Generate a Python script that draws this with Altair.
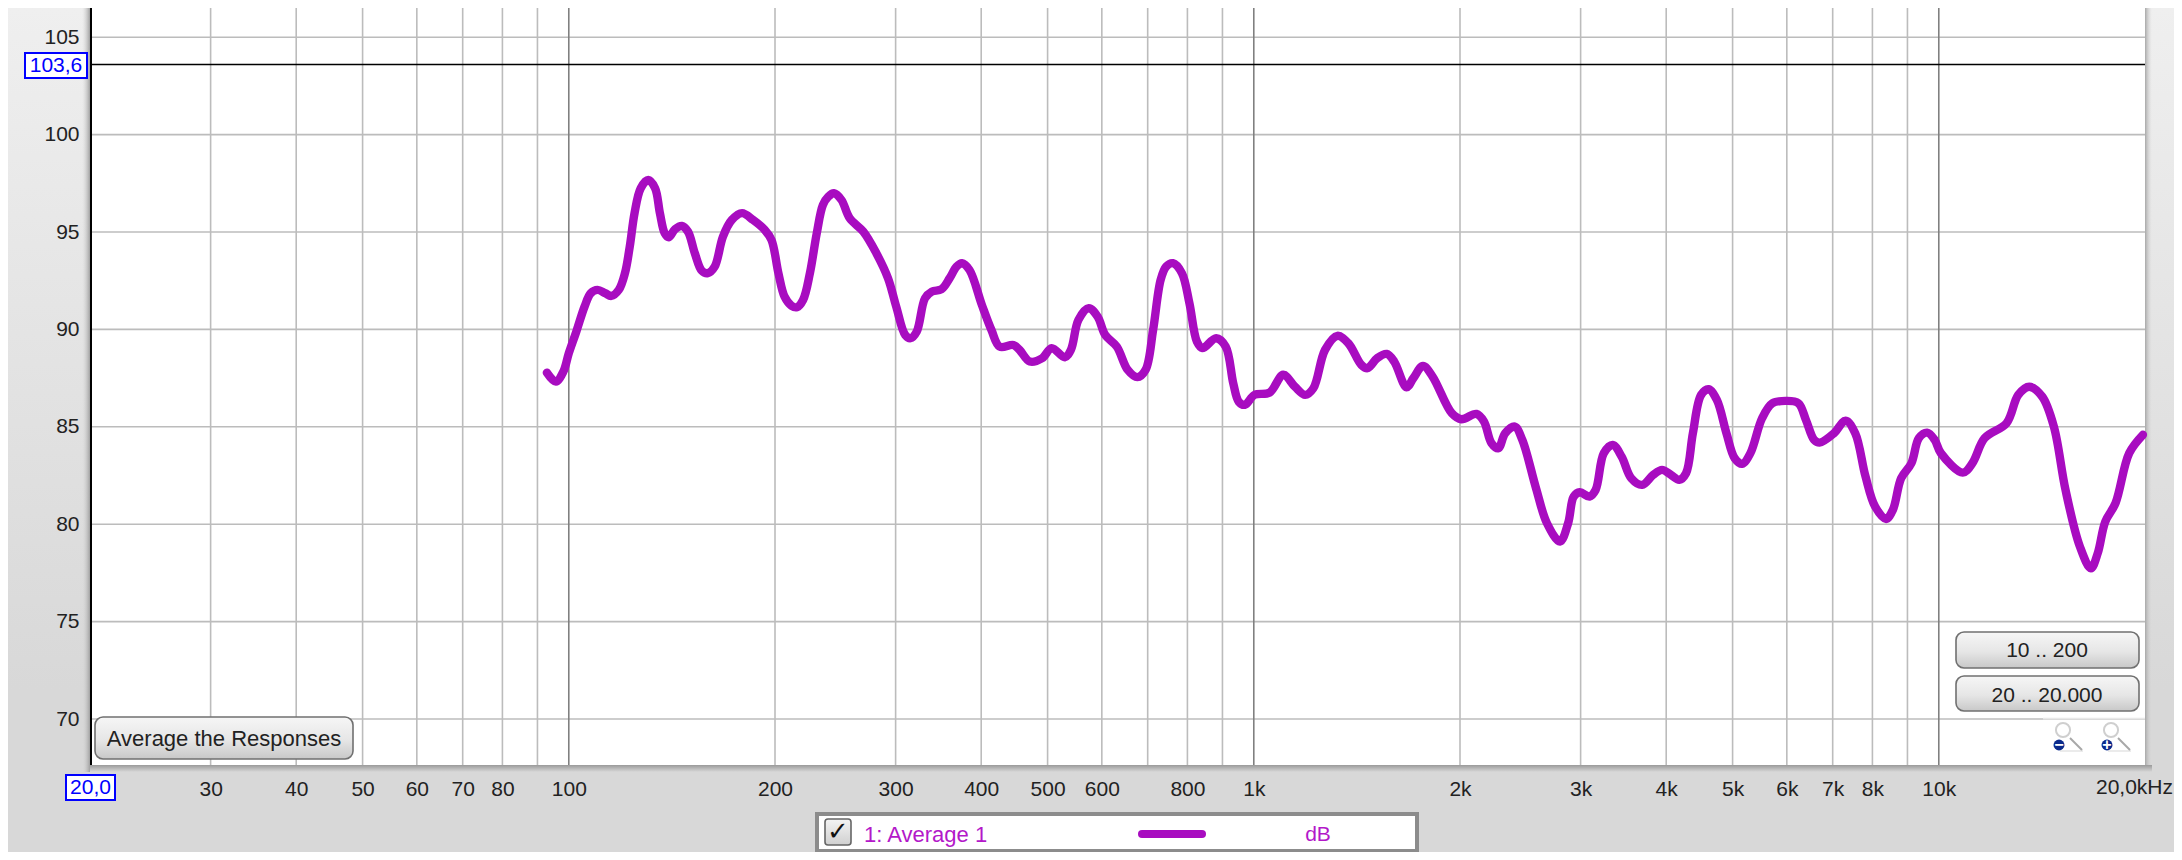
import altair as alt
import pandas as pd

# ---------- data ----------
log10_hz = [
 1.968,1.981,1.992,2.000,2.011,2.023,2.032,2.042,2.053,2.062,2.073,2.082,2.089,2.096,2.105,2.116,2.126,2.133,2.140,2.146,
 2.155,2.165,2.174,2.184,2.194,2.203,2.213,2.225,2.238,2.253,2.269,2.286,2.296,2.306,2.315,2.325,2.333,2.342,2.352,2.362,
 2.371,2.379,2.387,2.398,2.410,2.430,2.449,2.466,2.478,2.491,2.499,2.508,2.520,2.530,2.544,2.556,2.566,2.574,2.585,2.603,
 2.617,2.629,2.649,2.658,2.673,2.691,2.705,2.724,2.733,2.744,2.759,2.772,2.783,2.800,2.816,2.830,2.842,2.853,2.864,2.872,
 2.882,2.895,2.906,2.917,2.925,2.945,2.959,2.970,2.978,2.987,3.001,3.023,3.043,3.060,3.075,3.087,3.104,3.122,3.138,3.157,
 3.166,3.180,3.194,3.205,3.223,3.233,3.247,3.261,3.289,3.303,3.325,3.336,3.347,3.357,3.367,3.381,3.392,3.412,3.428,3.447,
 3.459,3.467,3.476,3.490,3.499,3.511,3.524,3.537,3.551,3.567,3.583,3.596,3.609,3.621,3.631,3.641,3.653,3.664,3.676,3.690,
 3.702,3.713,3.725,3.742,3.757,3.777,3.795,3.806,3.818,3.826,3.847,3.864,3.878,3.893,3.907,3.923,3.933,3.945,3.960,3.971,
 3.983,3.994,4.003,4.035,4.049,4.067,4.099,4.116,4.132,4.151,4.168,4.185,4.206,4.222,4.232,4.243,4.258,4.278,4.298]
db = [
 87.78,87.32,87.83,88.78,89.89,91.17,91.86,92.03,91.86,91.72,92.03,92.89,94.25,95.97,97.25,97.67,97.25,95.97,94.94,94.73,
 95.14,95.31,95.02,93.91,93.02,92.89,93.22,94.76,95.62,95.97,95.62,95.11,94.59,92.89,91.68,91.22,91.14,91.51,92.89,94.94,
 96.39,96.82,96.99,96.65,95.71,95.02,93.91,92.63,91.17,89.72,89.55,89.89,91.60,91.94,92.06,92.63,93.22,93.40,93.05,91.26,
 89.97,89.12,89.20,88.95,88.35,88.52,89.04,88.57,88.95,90.49,91.09,90.66,89.72,89.12,87.92,87.55,87.92,89.97,92.54,93.22,
 93.40,92.89,91.35,89.37,89.04,89.55,89.12,87.24,86.29,86.13,86.64,86.76,87.67,87.06,86.64,86.98,88.95,89.67,89.29,88.18,
 88.01,88.52,88.74,88.35,87.03,87.50,88.13,87.58,85.70,85.39,85.66,85.27,84.16,83.90,84.67,85.01,84.33,81.85,80.05,79.11,
 80.07,81.42,81.64,81.42,81.76,83.65,84.07,83.47,82.36,82.02,82.53,82.79,82.53,82.28,82.62,84.67,86.64,86.93,86.38,84.67,
 83.39,83.10,83.65,85.44,86.21,86.33,86.21,85.36,84.33,84.19,84.67,85.32,84.67,82.45,80.91,80.27,80.74,82.36,83.13,84.42,
 84.70,84.33,83.65,82.65,83.13,84.42,85.19,86.64,87.06,86.55,85.01,81.76,78.85,77.74,78.51,80.13,81.08,83.65,84.59]
grid_minor_hz = [30,40,50,60,70,80,90,200,300,400,500,600,700,800,900,2000,3000,4000,5000,6000,7000,8000,9000]
grid_major_hz = [100,1000,10000]
x_tick_labels_hz = [30,40,50,60,70,80,100,200,300,400,500,600,800,1000,2000,3000,4000,5000,6000,7000,8000,10000]
y_ticks_db = [70,75,80,85,90,95,100,105]
cursor_db = 103.6

FONT = "Liberation Sans"
PURPLE = "#a80cc0"
W, H = 2055, 757
X_SCALE = alt.Scale(type="log", domain=[20, 20000], nice=False)
Y_SCALE = alt.Scale(domain=[67.64, 106.5], nice=False, zero=False)
X_AXIS = alt.Axis(
    values=x_tick_labels_hz, title=None, grid=False, domain=False, ticks=False, zindex=1,
    labelFont=FONT, labelFontSize=21, labelColor="#222222", labelPadding=13, labelFlush=False,
    labelOverlap=False,
    labelExpr="datum.value >= 1000 ? (datum.value / 1000) + 'k' : '' + datum.value")
Y_AXIS = alt.Axis(
    values=y_ticks_db, title=None, grid=False, domain=False, ticks=False, zindex=1,
    labelFont=FONT, labelFontSize=21, labelColor="#222222", labelPadding=11, labelOverlap=False,
    labelFlush=False)
dummy = alt.InlineData(values=[{"k": 0}])

def px(x): return x - 90
def py(y): return y - 8

def grad(stops, horizontal=False):
    return alt.LinearGradient(
        gradient="linear",
        stops=[alt.GradientStop(offset=o, color=c) for o, c in stops],
        x1=0, x2=1 if horizontal else 0, y1=0, y2=0 if horizontal else 1)

def rect(x0, x1, y0, y1, fill, stroke=None, sw=0, r=0):
    kw = dict(fill=fill, cornerRadius=r, strokeWidth=sw)
    if stroke:
        kw["stroke"] = stroke
    return alt.Chart(dummy).mark_rect(**kw).encode(
        x=alt.value(px(x0)), x2=alt.value(px(x1)), y=alt.value(py(y0)), y2=alt.value(py(y1)))

def seg(x0, y0, x1, y1, color, sw=2, cap="butt"):
    return alt.Chart(dummy).mark_rule(color=color, strokeWidth=sw, strokeCap=cap).encode(
        x=alt.value(px(x0)), x2=alt.value(px(x1)), y=alt.value(py(y0)), y2=alt.value(py(y1)))

def label(s, x, y, color="#222222", align="center", size=21, font=FONT, weight="normal"):
    return alt.Chart(dummy).mark_text(text=s, color=color, align=align, baseline="middle",
                                      fontSize=size, font=font, fontWeight=weight).encode(
        x=alt.value(px(x)), y=alt.value(py(y)))

def dot(x, y, size, fill=None, stroke=None, sw=1):
    kw = dict(shape="circle", size=size, opacity=1, strokeWidth=sw)
    if fill:
        kw.update(filled=True, fill=fill)
    else:
        kw.update(filled=False, stroke=stroke)
    return alt.Chart(dummy).mark_point(**kw).encode(x=alt.value(px(x)), y=alt.value(py(y)))

BTN = grad([(0, "#f6f6f6"), (0.55, "#e6e6e6"), (1, "#c8c8c8")])

layers = [
    # window panels and shadows
    rect(8, 90, 8, 765, grad([(0, "#efefef"), (0.9, "#d8d8d8")])),
    rect(2145, 2174, 8, 765, grad([(0, "#efefef"), (0.9, "#d8d8d8")])),
    rect(82, 90, 8, 772, grad([(0, "#d8d8d800"), (1, "#a0a0a0")], True)),
    rect(2145, 2152, 8, 772, grad([(0, "#a8a8a8"), (1, "#d8d8d800")], True)),
    rect(90, 2152, 765, 772, grad([(0, "#9a9a9a"), (1, "#d8d8d8")])),
    rect(90, 2145, 8, 765, "#ffffff"),
]

# grid
layers.append(alt.Chart(pd.DataFrame({"hz": grid_minor_hz})).mark_rule(color="#bcbcbc", strokeWidth=1.6).encode(
    x=alt.X("hz:Q", scale=X_SCALE, axis=X_AXIS)))
layers.append(alt.Chart(pd.DataFrame({"db": y_ticks_db})).mark_rule(color="#bcbcbc", strokeWidth=1.6).encode(
    y=alt.Y("db:Q", scale=Y_SCALE, axis=Y_AXIS)))
layers.append(alt.Chart(pd.DataFrame({"hz": grid_major_hz})).mark_rule(color="#808080", strokeWidth=1.6).encode(
    x=alt.X("hz:Q", scale=X_SCALE, axis=X_AXIS)))
# fade of the 70 dB line under the zoom icons
layers.append(seg(2043, 718.6, 2145, 718.6, "#e8e8e8", 1.6))
# cursor line
layers.append(alt.Chart(pd.DataFrame({"db": [cursor_db]})).mark_rule(color="#000000", strokeWidth=1.6).encode(
    y=alt.Y("db:Q", scale=Y_SCALE, axis=Y_AXIS)))
# y axis line
layers.append(seg(91, 8, 91, 765, "#000000", 2))

# response curve
df = pd.DataFrame({"hz": [10 ** u for u in log10_hz], "db": db})
layers.append(alt.Chart(df).mark_line(color=PURPLE, strokeWidth=8.4, interpolate="catmull-rom",
                                      strokeCap="round", strokeJoin="round").encode(
    x=alt.X("hz:Q", scale=X_SCALE, axis=X_AXIS),
    y=alt.Y("db:Q", scale=Y_SCALE, axis=Y_AXIS),
))

# blue boxed cursor readouts
layers += [
    rect(25, 87, 53, 78, "#ffffff", "#0000ff", 2),
    label("103,6", 56, 66, "#0000ff"),
    rect(66, 115, 775, 800, "#ffffff", "#0000ff", 2),
    label("20,0", 90.5, 788, "#0000ff"),
    label("20,0kHz", 2173, 788, align="right"),
]
# buttons
layers += [
    rect(95, 353, 717, 759, BTN, "#707070", 1.6, 8),
    label("Average the Responses", 224, 739, size=22),
    rect(1956, 2139, 632, 668, BTN, "#707070", 1.6, 8),
    label("10 .. 200", 2047, 651),
    rect(1956, 2139, 676, 711, BTN, "#707070", 1.6, 8),
    label("20 .. 20.000", 2047, 696),
]
# zoom icons
for dx, sign in ((0, "\u2212"), (48, "+")):
    layers += [
        seg(2060 + dx, 751, 2083 + dx, 751, "#e4e4e4", 1.5),
        seg(2070 + dx, 738, 2082 + dx, 750, "#a8a8a8", 2),
        dot(2063 + dx, 730, 200, stroke="#cfcfcf", sw=2),
        dot(2059 + dx, 745, 120, fill="#0a2a8c"),
        label(sign, 2059 + dx, 744.5, "#ffffff", size=16, weight="bold"),
    ]
# legend box
layers += [
    rect(817, 1417, 814, 851, "#ffffff", "#8c8c8c", 4),
    rect(825, 851, 819, 845, grad([(0, "#f4f4f4"), (1, "#d0d0d0")]), "#666666", 1.6, 3),
    label("\u2713", 838, 832, "#111111", size=26, font="DejaVu Sans", weight="bold"),
    label("1: Average 1", 864, 835, "#b318c9", align="left", size=22),
    seg(1142, 834, 1202, 834, PURPLE, 8, "round"),
    label("dB", 1318, 835, "#b318c9"),
]

chart = alt.layer(*layers).properties(
    width=W, height=H,
    background="#d8d8d8",
    padding={"left": 82, "top": 0, "right": 29, "bottom": 87},
    autosize=alt.AutoSizeParams(type="none"),
).configure_view(stroke=None, fill=None)

chart.save("out.html", embed_options={"renderer": "svg", "actions": False})
